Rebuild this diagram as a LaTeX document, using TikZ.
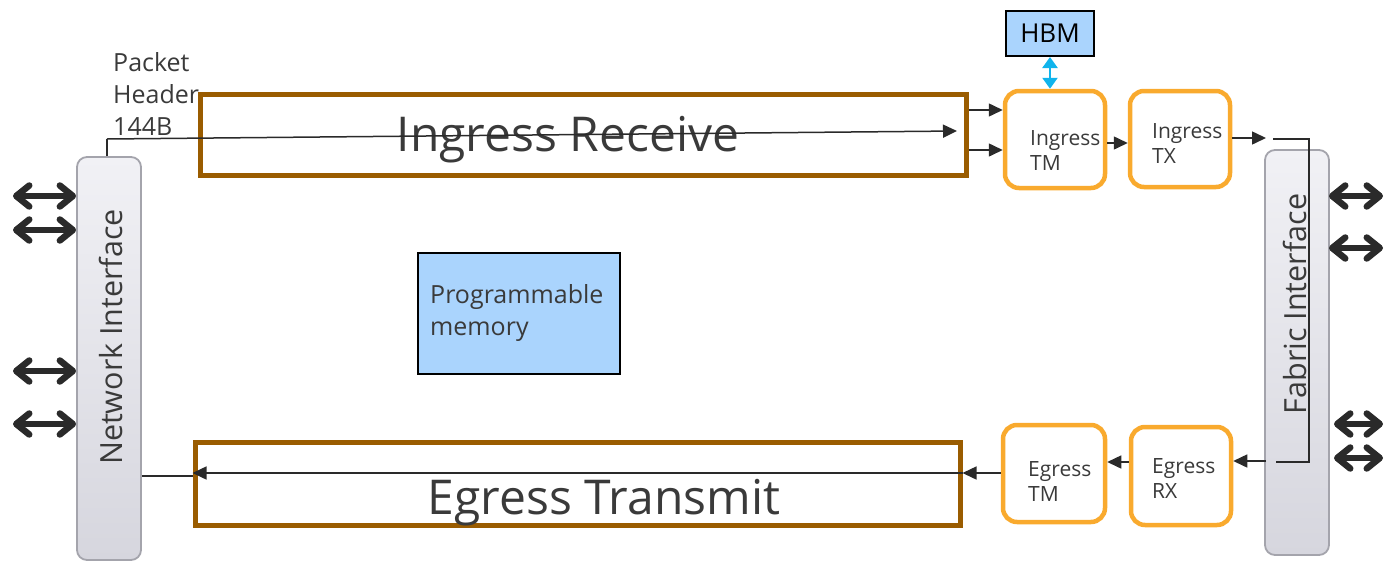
\documentclass[tikz,border=0pt]{standalone}
\usepackage{fontspec}
\setmainfont{Open Sans}
\usetikzlibrary{arrows.meta}
\definecolor{brownbox}{HTML}{9A5C00}
\definecolor{orangebox}{HTML}{F9AA2E}
\definecolor{lightblue}{HTML}{AAD4FD}
\definecolor{txt}{HTML}{3A3A3A}
\definecolor{darkarrow}{HTML}{2A2A2A}
\definecolor{cyanarrow}{HTML}{10B4EC}
\definecolor{ifborder}{HTML}{A4A4AC}
\definecolor{iftop}{HTML}{F1F1F5}
\definecolor{ifbot}{HTML}{D6D6DE}
\tikzset{
  iface/.style={draw=ifborder, line width=1.8pt, rounded corners=10pt, top color=iftop, bottom color=ifbot, inner sep=0pt, minimum width=64pt},
  bigbox/.style={draw=brownbox, line width=5pt, inner sep=0pt},
  tmbox/.style={draw=orangebox, line width=4.5pt, rounded corners=14pt, inner sep=0pt, fill=white},
  membox/.style={draw=black, line width=2pt, fill=lightblue, inner sep=0pt},
  lbl/.style={text=txt, align=left, inner sep=0pt, anchor=west, font=\fontsize{21}{25}\selectfont},
  bigtitle/.style={text=txt, inner sep=0pt, font=\fontsize{48}{52}\selectfont},
  flow/.style={draw=darkarrow, line width=1.5pt, -{Triangle[length=14pt,width=13pt]}},
  plain/.style={draw=darkarrow, line width=1.5pt},
  bidir/.style={draw=darkarrow, line width=5.5pt, {Straight Barb[length=13pt,width=21pt,line width=6.5pt,round]}-{Straight Barb[length=13pt,width=21pt,line width=6.5pt,round]}},
  hbmarrow/.style={draw=cyanarrow, line width=2.5pt, {Triangle[length=11pt,width=15pt]}-{Triangle[length=11pt,width=15pt]}}
}
\begin{document}
\begin{tikzpicture}[x=1pt,y=-1pt]
\useasboundingbox (0,0) rectangle (1385,563);
% interfaces
\node[iface, minimum height=403pt] (ni) at (109,358.5) {};
\node[rotate=90, text=txt, font=\fontsize{30.5}{36}\selectfont, inner sep=0pt] (nitext) at (111,337) {Network Interface};
\node[iface, minimum height=405pt] (fi) at (1297,352.5) {};
\node[rotate=90, text=txt, font=\fontsize{30.5}{36}\selectfont, inner sep=0pt] (fitext) at (1295,304) {Fabric Interface};
% big boxes
\node[bigbox, minimum width=766pt, minimum height=81pt] (irx) at (583,134.5) {};
\node[bigtitle] (irxtext) at (568,140) {Ingress Receive};
\node[bigbox, minimum width=765pt, minimum height=83pt] (etx) at (577.5,483.5) {};
\node[bigtitle] (etxtext) at (604,503) {Egress Transmit};
% TM boxes
\node[tmbox, minimum width=100pt, minimum height=97pt] (itm) at (1055,139.5) {};
\node[lbl] (itmtext) at (1030,150) {Ingress\\TM};
\node[tmbox, minimum width=100pt, minimum height=96pt] (itx) at (1180,139) {};
\node[lbl] (itxtext) at (1152,143) {Ingress\\TX};
\node[tmbox, minimum width=102pt, minimum height=97pt] (etm) at (1054,473.5) {};
\node[lbl] (etmtext) at (1028,481) {Egress\\TM};
\node[tmbox, minimum width=100pt, minimum height=98pt] (erx) at (1181,476) {};
\node[lbl] (erxtext) at (1152,478) {Egress\\RX};
% memories
\node[membox, minimum width=88pt, minimum height=45pt, font=\fontsize{26}{28}\selectfont, text=black] (hbm) at (1050,33.5) {HBM};
\node[membox, minimum width=202pt, minimum height=121pt] (pm) at (519,313.5) {};
\node[lbl, font=\fontsize{25}{32}\selectfont] (pmtext) at (430,313) {Programmable\\memory};
% packet header label
\node[lbl, font=\fontsize{25}{32}\selectfont, anchor=north west] (ph) at (113,52) {Packet\\Header\\144B};
% coordinates for free ends
\coordinate (phcorner) at (107,139);
\coordinate (irxin) at (957,131);
\coordinate (txout) at (1266,138);
\coordinate (fa) at (1273,139);
\coordinate (fb) at (1309,139);
\coordinate (fc) at (1309,462);
\coordinate (fd) at (1276,462);
\coordinate (fe) at (1266,461);
% flows
\draw[plain] (ni.north -| phcorner) -- (phcorner);
\draw[flow] (phcorner) -- (irxin);
\draw[flow] (irx.east |- 0,110) -- (itm.west |- 0,110);
\draw[flow] (irx.east |- 0,150) -- (itm.west |- 0,150);
\draw[flow] (itm.east |- 0,143) -- (itx.west |- 0,143);
\draw[flow] (itx.east |- 0,138) -- (txout);
\draw[plain] (fa) -- (fb) -- (fc) -- (fd);
\draw[flow] (fe) -- (erx.east |- 0,461);
\draw[flow] (erx.west |- 0,462) -- (etm.east |- 0,462);
\draw[flow] (etm.west |- 0,473) -- (etx.east |- 0,473);
\draw[flow] (etx.east |- 0,473) -- (etx.west |- 0,473);
\draw[plain, line width=1.2pt] (etx.west |- 0,476) -- (ni.east |- 0,476);
\draw[hbmarrow] (hbm.south) -- (itm.north -| hbm.south);
% bidirectional port arrows
\foreach \y/\n in {196/a,230/b,371/c,424/d}{
  \coordinate (l\n) at (13,\y);
  \draw[bidir] (l\n) -- (ni.west |- l\n);
}
\foreach \y/\n/\s in {196/a/1329,248/b/1329,424/c/1334,458/d/1334}{
  \coordinate (r\n) at (1383,\y);
  \coordinate (rs\n) at (\s,\y);
  \draw[bidir] (rs\n) -- (r\n);
}
\end{tikzpicture}
\end{document}
